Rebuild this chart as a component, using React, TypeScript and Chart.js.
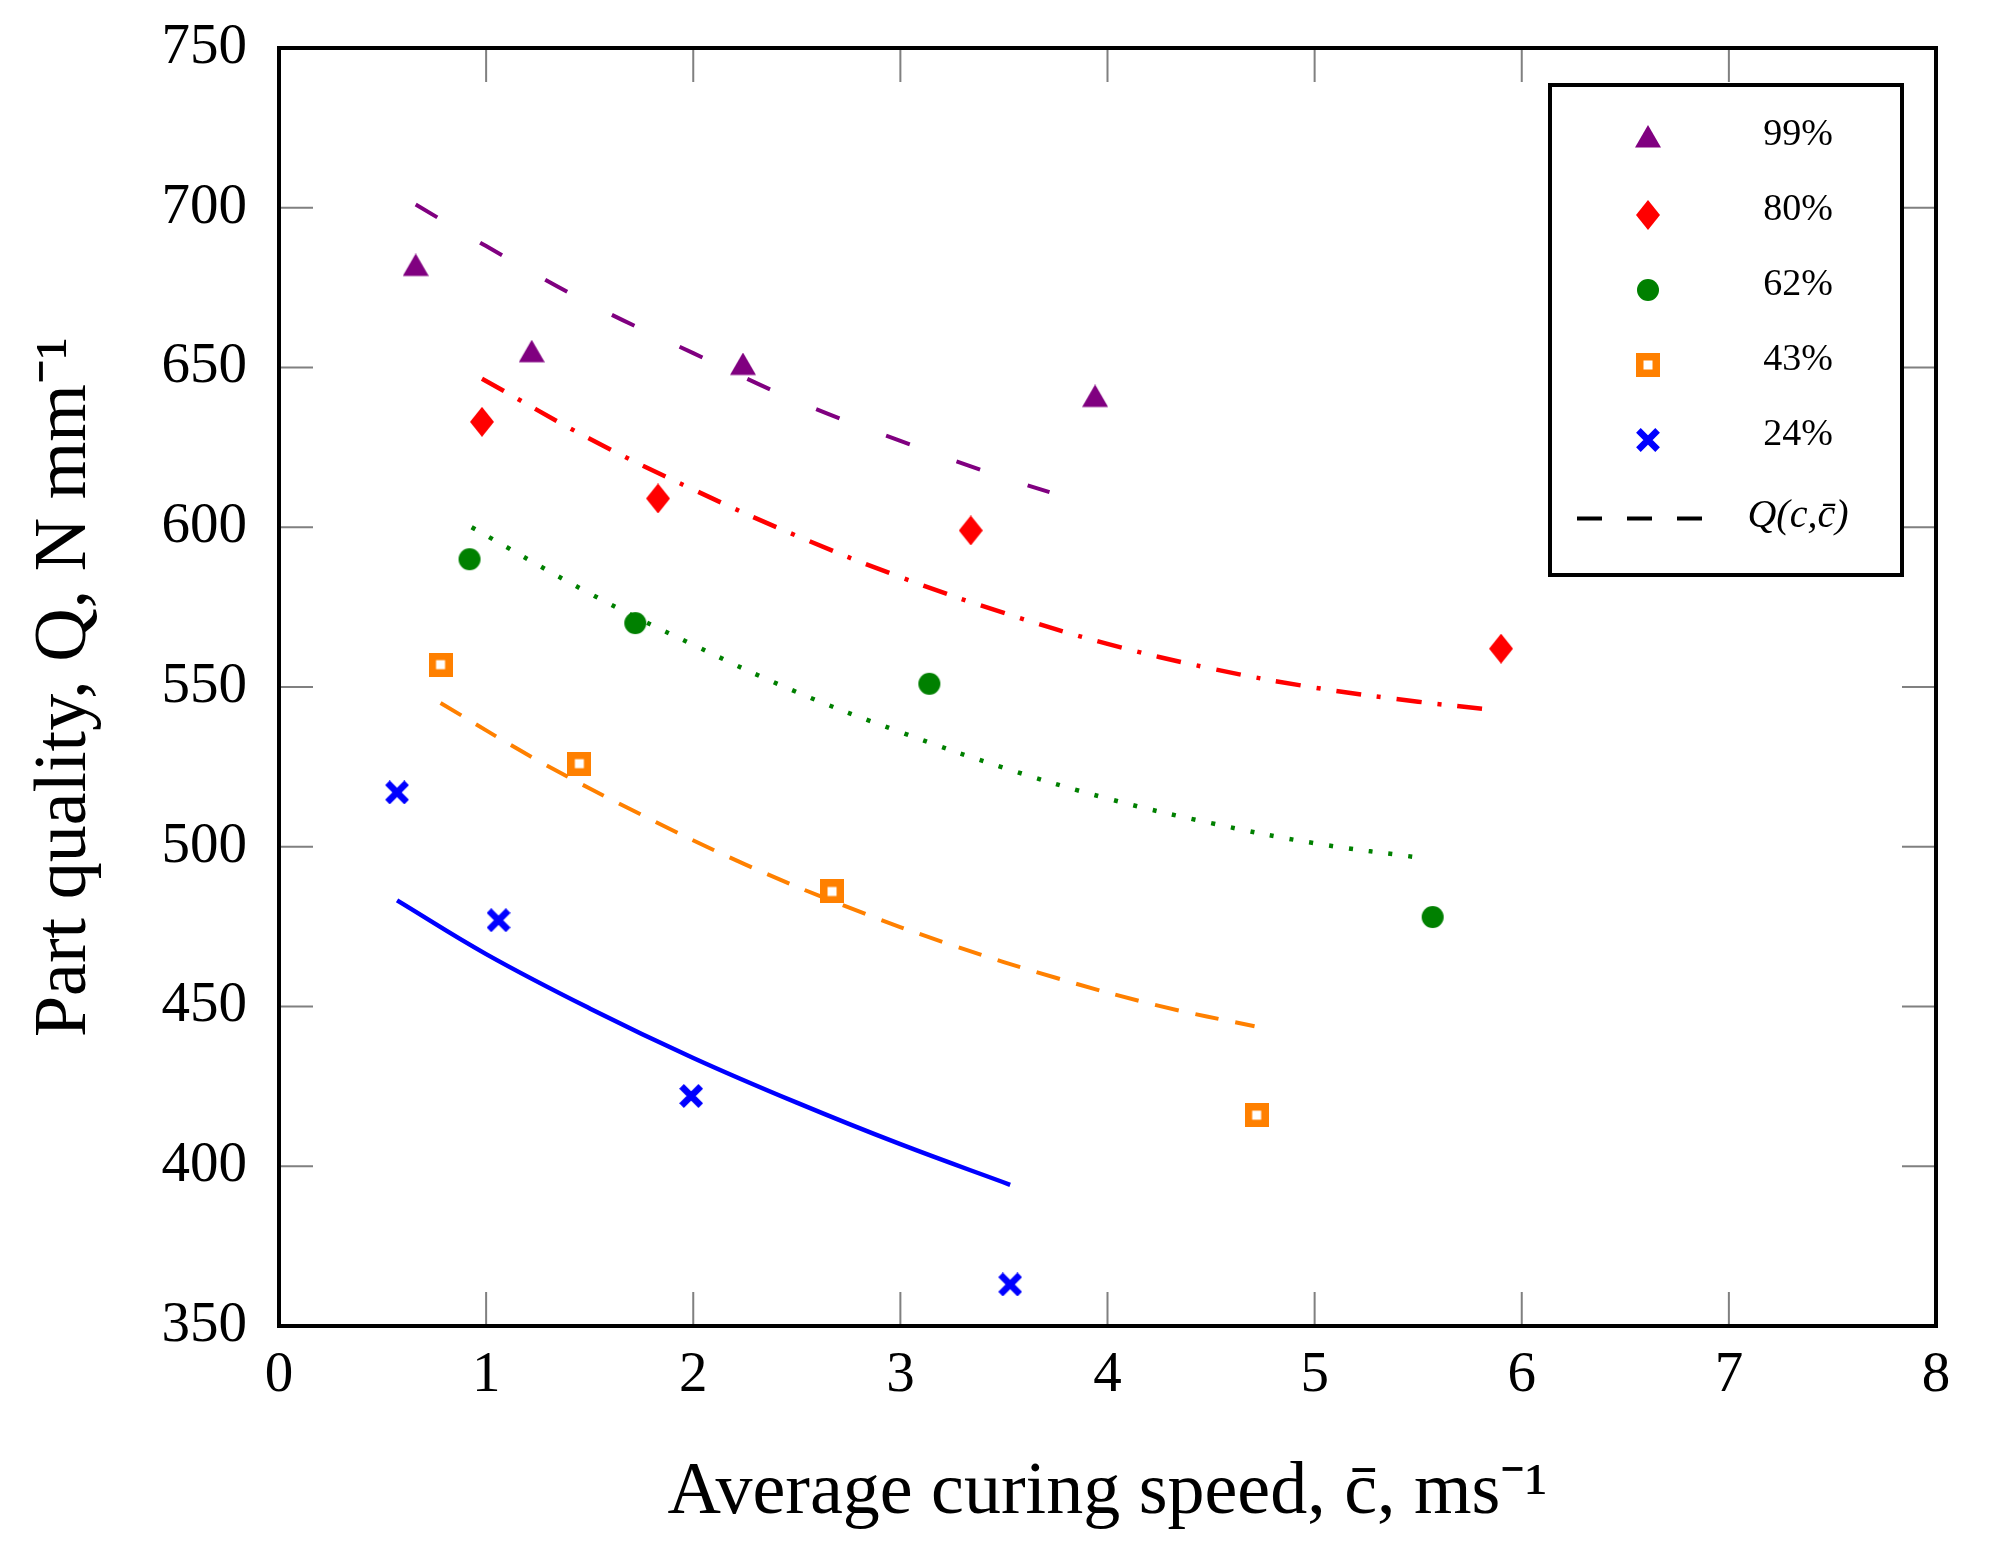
import { useEffect, useRef } from "react";
import { Chart, registerables, type ChartConfiguration, type Plugin } from "chart.js";

Chart.register(...registerables);

// measured points (average curing speed vs part quality)
const seriesLabels = ["99%", "80%", "62%", "43%", "24%"];
const seriesColors = ["#800080", "#ff0000", "#008000", "#ff8000", "#0000ff"];
const markerKinds = ["triangle", "diamond", "circle", "square", "cross"];

const speed99 = [0.66, 1.22, 2.24, 3.94];
const quality99 = [681, 654, 650, 640];
const speed80 = [0.98, 1.83, 3.34, 5.9];
const quality80 = [633, 609, 599, 562];
const speed62 = [0.92, 1.72, 3.14, 5.57];
const quality62 = [590, 570, 551, 478];
const speed43 = [0.78, 1.45, 2.67, 4.72];
const quality43 = [557, 526, 486, 416];
const speed24 = [0.57, 1.06, 1.99, 3.53];
const quality24 = [517, 477, 422, 363];

// fitted curves Q(c, c̄)
const fitLabel = "Q(c,c̄)";
const fitSpeed99 = [0.66, 1.0, 1.5, 2.0, 2.5, 3.0, 3.5, 3.72];
const fitQuality99 = [701, 688, 670, 654.5, 639.5, 627, 615.5, 611];
const fitSpeed80 = [0.98, 1.5, 2.0, 2.5, 3.0, 3.5, 4.0, 4.5, 5.0, 5.5, 5.84];
const fitQuality80 = [646.5, 627.7, 611.8, 597.3, 584.4, 573.2, 563.5, 555.8, 549.8, 545.4, 543];
const fitSpeed62 = [0.93, 1.5, 2.0, 2.5, 3.0, 3.5, 4.0, 4.5, 5.0, 5.54];
const fitQuality62 = [600, 579.3, 563.2, 548.4, 535.9, 524.7, 515.1, 507.4, 501.1, 496.3];
const fitSpeed43 = [0.78, 1.25, 1.75, 2.25, 2.75, 3.25, 3.75, 4.25, 4.71];
const fitQuality43 = [545, 527, 510, 494.5, 481, 469.2, 459, 450.2, 443.8];
const fitSpeed24 = [0.57, 1.0, 1.5, 2.0, 2.5, 3.0, 3.53];
const fitQuality24 = [483.2, 466.4, 449.4, 433.9, 419.9, 406.9, 394.2];

const fitDashes = [[25, 50], [25, 16, 4, 16], [4, 16], [24, 17], []];
const fitWidths = [4, 4.5, 4.5, 4, 4.5];

const xMin = 0;
const xMax = 8;
const xStep = 1;
const yMin = 350;
const yMax = 750;
const yStep = 50;

const xTitle = "Average curing speed, c̄, ms⁻¹";
const yTitle = "Part quality, Q, N mm⁻¹";

const FONT = "'Liberation Serif', 'Times New Roman', serif";

function makeMarker(kind: string, color: string) {
  const c = document.createElement("canvas");
  if (kind === "triangle") {
    c.width = 26;
    c.height = 30;
    const ctx = c.getContext("2d")!;
    ctx.fillStyle = color;
    ctx.beginPath();
    ctx.moveTo(13, 0);
    ctx.lineTo(26, 22.5);
    ctx.lineTo(0, 22.5);
    ctx.closePath();
    ctx.fill();
  } else if (kind === "diamond") {
    c.width = 24;
    c.height = 30;
    const ctx = c.getContext("2d")!;
    ctx.fillStyle = color;
    ctx.beginPath();
    ctx.moveTo(12, 0);
    ctx.lineTo(24, 15);
    ctx.lineTo(12, 30);
    ctx.lineTo(0, 15);
    ctx.closePath();
    ctx.fill();
  } else if (kind === "circle") {
    c.width = 24;
    c.height = 24;
    const ctx = c.getContext("2d")!;
    ctx.fillStyle = color;
    ctx.beginPath();
    ctx.arc(12, 12, 11, 0, Math.PI * 2);
    ctx.fill();
  } else if (kind === "square") {
    c.width = 24;
    c.height = 24;
    const ctx = c.getContext("2d")!;
    ctx.fillStyle = color;
    ctx.fillRect(0, 0, 24, 24);
    ctx.fillStyle = "#ffffff";
    ctx.fillRect(7.5, 7.5, 9, 9);
  } else {
    c.width = 24;
    c.height = 24;
    const ctx = c.getContext("2d")!;
    ctx.strokeStyle = color;
    ctx.lineWidth = 6.5;
    ctx.beginPath();
    ctx.moveTo(2.4, 2.4);
    ctx.lineTo(21.6, 21.6);
    ctx.moveTo(21.6, 2.4);
    ctx.lineTo(2.4, 21.6);
    ctx.stroke();
  }
  return c;
}

const toPoints = (xs: number[], ys: number[]) => xs.map((x, i) => ({ x, y: ys[i] }));

const framePlugin: Plugin = {
  id: "frame",
  beforeDatasetsDraw(chart) {
    const { ctx, chartArea: a, scales } = chart;
    const len = 34;
    ctx.save();
    ctx.strokeStyle = "#808080";
    ctx.lineWidth = 2;
    ctx.beginPath();
    scales.x.ticks.forEach((t) => {
      const px = scales.x.getPixelForValue(t.value);
      ctx.moveTo(px, a.bottom);
      ctx.lineTo(px, a.bottom - len);
      ctx.moveTo(px, a.top);
      ctx.lineTo(px, a.top + len);
    });
    scales.y.ticks.forEach((t) => {
      const py = scales.y.getPixelForValue(t.value);
      ctx.moveTo(a.left, py);
      ctx.lineTo(a.left + len, py);
      ctx.moveTo(a.right, py);
      ctx.lineTo(a.right - len, py);
    });
    ctx.stroke();
    ctx.restore();
  },
  afterDatasetsDraw(chart) {
    const { ctx, chartArea: a } = chart;
    ctx.save();
    ctx.strokeStyle = "#000";
    ctx.lineWidth = 4;
    ctx.strokeRect(a.left, a.top, a.right - a.left, a.bottom - a.top);
    ctx.restore();
  }
};

export default function App() {
  const canvasRef = useRef<HTMLCanvasElement | null>(null);

  useEffect(() => {
    const canvas = canvasRef.current;
    if (!canvas) return;

    const markers = markerKinds.map((k, i) => makeMarker(k, seriesColors[i]));
    const scatterData = [
      toPoints(speed99, quality99),
      toPoints(speed80, quality80),
      toPoints(speed62, quality62),
      toPoints(speed43, quality43),
      toPoints(speed24, quality24)
    ];
    const fitData = [
      toPoints(fitSpeed99, fitQuality99),
      toPoints(fitSpeed80, fitQuality80),
      toPoints(fitSpeed62, fitQuality62),
      toPoints(fitSpeed43, fitQuality43),
      toPoints(fitSpeed24, fitQuality24)
    ];

    const legendPlugin: Plugin = {
      id: "boxLegend",
      afterDraw(chart) {
        const ctx = chart.ctx;
        const box = { x: 1550, y: 85, w: 352, h: 490 };
        const markerX = 1648;
        const textX = 1798;
        const firstRow = 140;
        const rowGap = 75;
        ctx.save();
        ctx.fillStyle = "#fff";
        ctx.fillRect(box.x, box.y, box.w, box.h);
        ctx.strokeStyle = "#000";
        ctx.lineWidth = 4;
        ctx.strokeRect(box.x, box.y, box.w, box.h);
        ctx.textAlign = "center";
        ctx.textBaseline = "middle";
        ctx.fillStyle = "#000";
        seriesLabels.forEach((label, i) => {
          const y = firstRow + i * rowGap;
          const m = markers[i];
          ctx.drawImage(m, markerX - m.width / 2, y - m.height / 2);
          ctx.font = `38px ${FONT}`;
          ctx.fillText(label, textX, y - 5);
        });
        const fy = 518.5;
        ctx.strokeStyle = "#000";
        ctx.lineWidth = 4;
        ctx.setLineDash([25, 25]);
        ctx.beginPath();
        ctx.moveTo(1577, fy);
        ctx.lineTo(1702, fy);
        ctx.stroke();
        ctx.setLineDash([]);
        ctx.font = `italic 40px ${FONT}`;
        ctx.fillText(fitLabel, textX, fy - 2);
        ctx.restore();
      }
    };

    const config: ChartConfiguration<"scatter" | "line"> = {
      type: "scatter",
      data: {
        datasets: [
          ...scatterData.map((d, i) => ({
            type: "scatter" as const,
            label: seriesLabels[i],
            data: d,
            pointStyle: markers[i],
            pointRadius: 12,
            showLine: false
          })),
          ...fitData.map((d, i) => ({
            type: "line" as const,
            label: fitLabel,
            data: d,
            borderColor: seriesColors[i],
            borderWidth: fitWidths[i],
            borderDash: fitDashes[i],
            borderCapStyle: "butt" as const,
            pointRadius: 0,
            fill: false,
            tension: 0.4
          }))
        ]
      },
      options: {
        responsive: false,
        animation: false,
        devicePixelRatio: 1,
        layout: { padding: { top: 48, right: 63, left: 0, bottom: 0 } },
        plugins: { legend: { display: false }, tooltip: { enabled: false } },
        scales: {
          x: {
            type: "linear",
            min: xMin,
            max: xMax,
            grid: { display: false, drawTicks: false },
            border: { display: false },
            ticks: {
              stepSize: xStep,
              padding: 16,
              color: "#000",
              font: { family: FONT, size: 57 }
            },
            title: {
              display: true,
              text: xTitle,
              color: "#000",
              font: { family: FONT, size: 74 },
              padding: 12
            },
            afterFit(scale) {
              scale.height = 224;
              scale.paddingLeft = 0;
              scale.paddingRight = 0;
            }
          },
          y: {
            type: "linear",
            min: yMin,
            max: yMax,
            grid: { display: false, drawTicks: false },
            border: { display: false },
            ticks: {
              stepSize: yStep,
              padding: 32,
              color: "#000",
              font: { family: FONT, size: 57 }
            },
            title: {
              display: true,
              text: yTitle,
              color: "#000",
              font: { family: FONT, size: 74 },
              padding: 21
            },
            afterFit(scale) {
              scale.width = 279;
              scale.paddingTop = 0;
              scale.paddingBottom = 0;
            }
          }
        }
      },
      plugins: [framePlugin, legendPlugin]
    };

    const chart = new Chart(canvas, config as ChartConfiguration);
    return () => chart.destroy();
  }, []);

  return (
    <div
      style={{
        position: "fixed",
        left: 0,
        top: 0,
        width: 1999,
        height: 1550,
        background: "#fff"
      }}
    >
      <canvas ref={canvasRef} width={1999} height={1550} style={{ display: "block" }} />
    </div>
  );
}
